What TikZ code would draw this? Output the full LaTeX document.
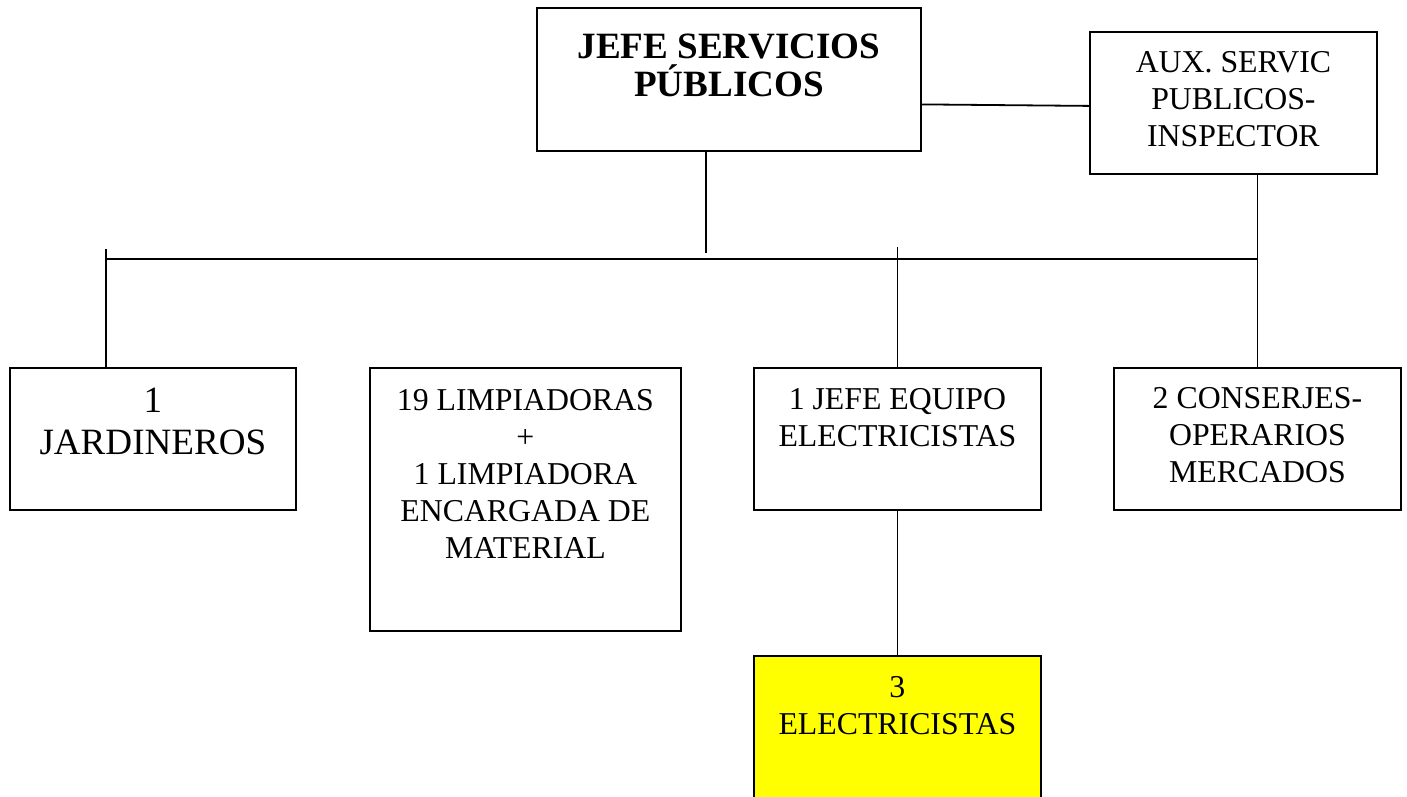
\documentclass[tikz,border=0pt]{standalone}
\usepackage{fontspec}
\setmainfont{Liberation Serif}
\definecolor{amarillo}{RGB}{255,255,0}

\begin{document}
\begin{tikzpicture}[x=1pt,y=-1pt,
    box/.style={draw,line width=1.8pt,minimum width=287pt,minimum height=142pt,
      anchor=north west,inner sep=0pt},
    txt/.style={anchor=north,align=center,inner sep=0pt,
      font=\fontsize{31.8pt}{37pt}\selectfont},
    big/.style={font=\fontsize{37.1pt}{42pt}\selectfont},
    line/.style={line width=1.8pt}]
  \useasboundingbox (0,0) rectangle (1407,796);
  % cajas
  \node[box,minimum width=384pt,minimum height=143pt] (jefe) at (536,7) {};
  \node[box] (aux) at (1089,31) {};
  \node[box,minimum width=286pt] (jard) at (9,367) {};
  \node[box,minimum width=311pt,minimum height=263pt] (limp) at (369,367) {};
  \node[box] (equipo) at (753,367) {};
  \node[box] (consj) at (1113,367) {};
  \node[box,fill=amarillo,minimum height=160pt] (elec) at (753,655) {};
  % textos
  \node[txt,font=\bfseries\fontsize{37.1pt}{38pt}\selectfont] (jefe-t)
    at ([yshift=-27pt]jefe.north) {JEFE SERVICIOS\\PÚBLICOS};
  \node[txt] (aux-t) at ([yshift=-20pt]aux.north) {AUX. SERVIC\\PUBLICOS-\\INSPECTOR};
  \node[txt,big] (jard-t) at ([yshift=-21pt]jard.north) {1\\JARDINEROS};
  \node[txt] (limp-t) at ([yshift=-22pt]limp.north)
    {19 LIMPIADORAS\\+\\1 LIMPIADORA\\ENCARGADA DE\\MATERIAL};
  \node[txt] (equipo-t) at ([yshift=-21pt]equipo.north) {1 JEFE EQUIPO\\ELECTRICISTAS};
  \node[txt] (consj-t) at ([yshift=-20pt]consj.north) {2 CONSERJES-\\OPERARIOS\\MERCADOS};
  \node[txt] (elec-t) at ([yshift=-21pt]elec.north) {3\\ELECTRICISTAS};
  % lineas
  \coordinate (busL) at (106,259);
  \coordinate (busR) at (1258,259);
  \coordinate (jefe-end) at (706,253);
  \coordinate (jard-end) at (106,249);
  \coordinate (eq-end) at (898,247);
  \draw[line] (busL) -- (busR);
  \draw[line] ([yshift=-25pt]jefe.east) -- ([yshift=-3pt]aux.west);
  \draw[line] (jefe.south -| jefe-end) -- (jefe-end);
  \draw[line] (jard-end) -- (jard.north -| jard-end);
  \draw[line] (equipo.north |- eq-end) -- (equipo.north);
  \draw[line] (aux.south -| consj.north) -- (consj.north);
  \draw[line] (equipo.south) -- (elec.north);
\end{tikzpicture}
\end{document}
